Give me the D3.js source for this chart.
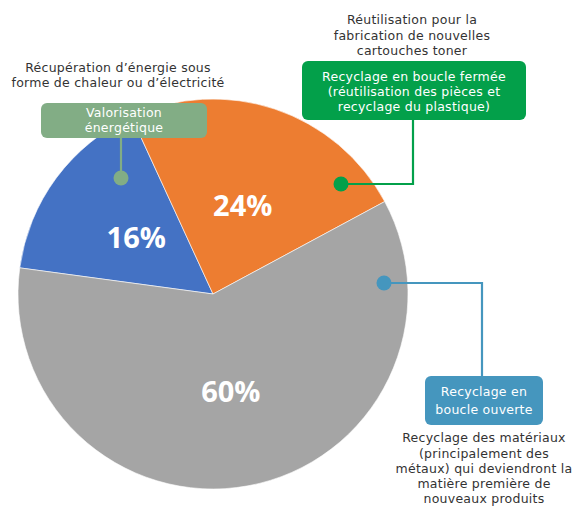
<!DOCTYPE html>
<html>
<head>
<meta charset="utf-8">
<script src="https://cdn.jsdelivr.net/npm/d3@7"></script>
<style>
  html, body { margin: 0; padding: 0; background: #fff; }
  svg { display: block; }
  .note { font-family: "DejaVu Sans", sans-serif; font-size: 12.5px; letter-spacing: 0.25px; fill: #333; }
  .boxtxt { font-family: "DejaVu Sans", sans-serif; font-size: 12.5px; letter-spacing: 0.25px; fill: #fff; }
  .pct { font-family: "Open Sans", sans-serif; font-weight: 700; font-size: 29px; fill: #fff; }
</style>
</head>
<body>
<div id="chart"></div>
<script>
var categories = ["Valorisation énergétique", "Recyclage en boucle fermée", "Recyclage en boucle ouverte"];
var shares = [16, 24, 60];
var sliceColors = ["#4472c4", "#ed7d31", "#a5a5a5"];

var width = 575, height = 506;
var cx = 213, cy = 294, radius = 195;

var svg = d3.select("#chart").append("svg")
  .attr("width", width)
  .attr("height", height);

var pie = d3.pie()
  .sort(null)
  .startAngle(-82.3 * Math.PI / 180)
  .endAngle(-82.3 * Math.PI / 180 + 2 * Math.PI);

var arcs = pie(shares);
var arc = d3.arc().innerRadius(0).outerRadius(radius);

var g = svg.append("g").attr("transform", "translate(" + cx + "," + cy + ")");

g.selectAll("path")
  .data(arcs)
  .enter().append("path")
  .attr("d", arc)
  .attr("fill", function(d, i) { return sliceColors[i]; })
  .attr("stroke", "#fff")
  .attr("stroke-width", 0.6);

// percentage labels
var labelRadius = [0.49, 0.48, 0.51];
g.selectAll("text.pct")
  .data(arcs)
  .enter().append("text")
  .attr("class", "pct")
  .attr("text-anchor", "middle")
  .attr("dy", "0.36em")
  .attr("transform", function(d, i) {
    var a = d3.arc().innerRadius(radius * labelRadius[i]).outerRadius(radius * labelRadius[i]);
    return "translate(" + a.centroid(d) + ")";
  })
  .text(function(d) { return d.data + "%"; });

// callouts: box, connector, dot
var callouts = [
  { color: "#82ad85", box: [41, 103, 166, 35], lines: ["Valorisation", "énergétique"], lineY: [117, 132],
    dot: [121, 178], path: [[121, 138], [121, 178]] },
  { color: "#03a04a", box: [302, 61, 224, 59], lines: ["Recyclage en boucle fermée", "(réutilisation des pièces et", "recyclage du plastique)"],
    lineY: [81, 96, 111], dot: [341, 184], path: [[413, 120], [413, 184], [341, 184]] },
  { color: "#4596be", box: [425, 376, 118, 49], lines: ["Recyclage en", "boucle ouverte"], lineY: [396, 414],
    dot: [384, 283], path: [[384, 283], [482, 283], [482, 376]] }
];

var line = d3.line();

callouts.forEach(function(c) {
  svg.append("path")
    .attr("d", line(c.path))
    .attr("fill", "none")
    .attr("stroke", c.color)
    .attr("stroke-width", 2.2);
  svg.append("circle")
    .attr("cx", c.dot[0]).attr("cy", c.dot[1]).attr("r", 7.5)
    .attr("fill", c.color);
  svg.append("rect")
    .attr("x", c.box[0]).attr("y", c.box[1])
    .attr("width", c.box[2]).attr("height", c.box[3])
    .attr("rx", 6)
    .attr("fill", c.color);
  c.lines.forEach(function(t, k) {
    svg.append("text")
      .attr("class", "boxtxt")
      .attr("x", c.box[0] + c.box[2] / 2)
      .attr("y", c.lineY[k])
      .attr("text-anchor", "middle")
      .text(t);
  });
});

// descriptive notes
var notes = [
  { x: 118, y: [72, 87], lines: ["Récupération d’énergie sous", "forme de chaleur ou d’électricité"] },
  { x: 412, y: [24, 40, 55], lines: ["Réutilisation pour la", "fabrication de nouvelles", "cartouches toner"] },
  { x: 484, y: [442, 458, 473, 488, 503], lines: ["Recyclage des matériaux", "(principalement des", "métaux) qui deviendront la", "matière première de", "nouveaux produits"] }
];

notes.forEach(function(n) {
  n.lines.forEach(function(t, k) {
    svg.append("text")
      .attr("class", "note")
      .attr("x", n.x)
      .attr("y", n.y[k])
      .attr("text-anchor", "middle")
      .text(t);
  });
});
</script>
</body>
</html>
